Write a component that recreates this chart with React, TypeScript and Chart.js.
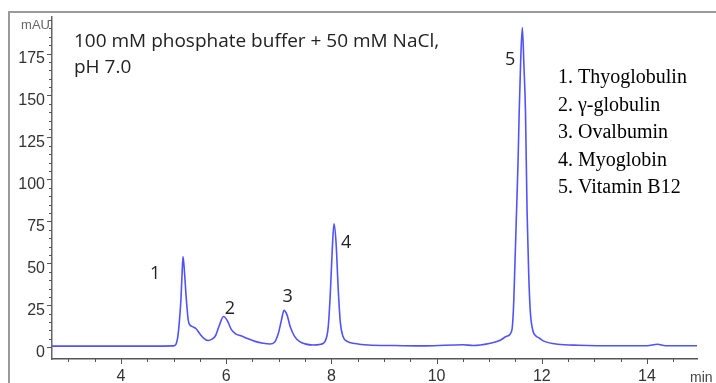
import { useEffect, useRef } from "react";
import { Chart, registerables } from "chart.js";

Chart.register(...registerables);

// Retention time (min)
const timeMin = [
  2.69, 3.5, 4.5, 5.0, 5.05, 5.08, 5.11, 5.14, 5.16, 5.18, 5.21, 5.24, 5.28, 5.32, 5.36, 5.43,
  5.5, 5.57, 5.66, 5.73, 5.8, 5.87, 5.95, 6.02, 6.1, 6.18, 6.28, 6.42, 6.55, 6.7, 6.83, 6.92,
  6.99, 7.05, 7.1, 7.16, 7.22, 7.3, 7.4, 7.5, 7.65, 7.8, 7.88, 7.94, 7.98, 8.02, 8.05, 8.09,
  8.13, 8.17, 8.22, 8.3, 8.45, 8.7, 9.2, 9.8, 10.5, 10.7, 11.0, 11.2, 11.33, 11.43, 11.46,
  11.49, 11.52, 11.55, 11.57, 11.6, 11.63, 11.66, 11.69, 11.72, 11.75, 11.78, 11.83, 11.88,
  11.95, 12.05, 12.3, 12.7, 13.5, 14.0, 14.2, 14.35, 14.95,
];
// Absorbance (mAU)
const absorbance = [
  0.7, 0.7, 0.7, 0.8, 2, 6, 15, 28, 42, 54, 44, 30, 16, 13, 12.3, 11,
  8, 5.5, 4, 4.8, 7, 13, 18.3, 16, 10.5, 8, 6.8, 5, 3.5, 2.4, 1.9, 3,
  8, 16, 22, 19, 12, 6.5, 3.3, 2, 1.3, 1.8, 3.5, 12, 32, 60, 73.5, 62,
  35, 15, 6.5, 3.5, 2.2, 1.3, 1, 0.8, 1.5, 1, 2.2, 4, 6.5, 10, 22,
  50, 81, 112, 140, 172, 190.5, 168, 140, 81, 45, 22, 10, 7,
  5.5, 3.5, 1.8, 1.2, 0.9, 0.9, 1.8, 0.9, 0.9,
];

const yTickValues = [0, 25, 50, 75, 100, 125, 150, 175];
const xTickValues = [4, 6, 8, 10, 12, 14];
const peakNumbers = ["1", "2", "3", "4", "5"];
const peakLabelTime = [4.65, 6.07, 7.17, 8.28, 11.4];
const peakLabelAbs = [44, 23, 30, 62, 171];
const compoundNames = ["Thyoglobulin", "γ-globulin", "Ovalbumin", "Myoglobin", "Vitamin B12"];
const titleLines = ["100 mM phosphate buffer + 50 mM NaCl,", "pH 7.0"];
const yUnit = "mAU";
const xUnit = "min";

const X_MIN = 2.69;
const X_MAX = 14.95;
const Y_MIN = -7;
const Y_MAX = 197;

export default function App() {
  const ref = useRef<HTMLCanvasElement | null>(null);

  useEffect(() => {
    document.body.style.margin = "0";
    const canvas = ref.current;
    if (!canvas) return;

    const overlay = {
      id: "overlay",
      afterDraw(chart: any) {
        const ctx = chart.ctx as CanvasRenderingContext2D;
        const xs = chart.scales.x;
        const ys = chart.scales.y;
        const area = chart.chartArea;
        ctx.save();

        // frame (left + top)
        ctx.strokeStyle = "#9a9a9a";
        ctx.lineWidth = 2;
        ctx.beginPath();
        ctx.moveTo(9, 383);
        ctx.lineTo(9, 12);
        ctx.lineTo(716, 12);
        ctx.stroke();

        // x tick marks (minor every 0.5)
        ctx.strokeStyle = "#555";
        ctx.lineWidth = 1;
        for (let v = Math.ceil(X_MIN * 2) / 2; v <= X_MAX + 1e-9; v += 0.5) {
          const px = Math.round(xs.getPixelForValue(v)) + 0.5;
          const major = xTickValues.includes(v);
          ctx.beginPath();
          ctx.moveTo(px, area.bottom);
          ctx.lineTo(px, area.bottom + (major ? 5 : 3));
          ctx.stroke();
        }
        // y tick marks (minor every 5)
        for (let v = 0; v <= 195; v += 5) {
          const py = Math.round(ys.getPixelForValue(v)) + 0.5;
          const major = yTickValues.includes(v);
          ctx.beginPath();
          ctx.moveTo(area.left, py);
          ctx.lineTo(area.left - (major ? 5 : 3), py);
          ctx.stroke();
        }

        // units
        ctx.fillStyle = "#666";
        ctx.font = "13px 'Liberation Sans'";
        ctx.textAlign = "right";
        ctx.textBaseline = "alphabetic";
        ctx.fillText(yUnit, area.left - 2, 29);
        ctx.fillStyle = "#444";
        ctx.font = "14px 'Liberation Sans'";
        ctx.textAlign = "left";
        ctx.fillText(xUnit, 690, 382);

        // title
        ctx.fillStyle = "#222";
        ctx.font = "19px 'Open Sans'";
        ctx.textAlign = "left";
        ctx.fillText(titleLines[0], 74, 47);
        ctx.fillText(titleLines[1], 74, 73);

        // peak labels
        ctx.font = "18px 'Open Sans'";
        ctx.textAlign = "center";
        ctx.textBaseline = "middle";
        peakNumbers.forEach((n, i) => {
          ctx.fillText(n, xs.getPixelForValue(peakLabelTime[i]), ys.getPixelForValue(peakLabelAbs[i]));
        });

        // compound list
        ctx.fillStyle = "#000";
        ctx.font = "20px 'Liberation Serif'";
        ctx.textAlign = "left";
        ctx.textBaseline = "alphabetic";
        compoundNames.forEach((name, i) => {
          const y = 83 + i * 27.5;
          ctx.fillText(`${i + 1}.`, 558, y);
          ctx.fillText(name, 578, y);
        });

        ctx.restore();
      },
    };

    const chart = new Chart(canvas, {
      type: "line",
      data: {
        datasets: [
          {
            data: timeMin.map((t, i) => ({ x: t, y: absorbance[i] })),
            borderColor: "#5252fa",
            borderWidth: 1.6,
            pointRadius: 0,
            fill: false,
            cubicInterpolationMode: "monotone",
          },
        ],
      },
      options: {
        animation: false,
        responsive: false,
        devicePixelRatio: 1,
        layout: { padding: { left: 0, top: 14, right: 19, bottom: 0 } },
        plugins: { legend: { display: false }, tooltip: { enabled: false } },
        scales: {
          x: {
            type: "linear",
            min: X_MIN,
            max: X_MAX,
            afterBuildTicks: (s: any) => {
              s.ticks = xTickValues.map((v) => ({ value: v }));
            },
            afterFit: (s: any) => {
              s.height = 24;
            },
            grid: { display: false, drawTicks: false },
            border: { display: true, color: "#555", width: 1.5 },
            ticks: {
              color: "#333",
              font: { family: "'Liberation Sans'", size: 16 },
              padding: 8,
              maxRotation: 0,
              autoSkip: false,
            },
          },
          y: {
            type: "linear",
            min: Y_MIN,
            max: Y_MAX,
            afterBuildTicks: (s: any) => {
              s.ticks = yTickValues.map((v) => ({ value: v }));
            },
            afterFit: (s: any) => {
              s.width = 52;
            },
            grid: { display: false, drawTicks: false },
            border: { display: true, color: "#666", width: 1.5, dash: [2, 2] },
            ticks: {
              color: "#333",
              font: { family: "'Liberation Sans'", size: 16 },
              padding: 7,
              labelOffset: 5,
              autoSkip: false,
            },
          },
        },
      },
      plugins: [overlay],
    } as any);

    return () => chart.destroy();
  }, []);

  return (
    <div style={{ width: 716, height: 383, position: "relative", background: "#fff" }}>
      <canvas ref={ref} width={716} height={383} style={{ display: "block" }} />
    </div>
  );
}
